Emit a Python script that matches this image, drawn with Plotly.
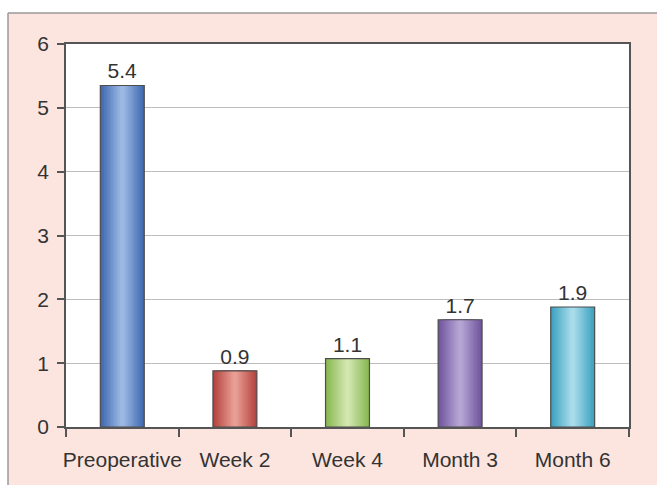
import plotly.graph_objects as go

categories = ["Preoperative", "Week 2", "Week 4", "Month 3", "Month 6"]
values = [5.35, 0.88, 1.07, 1.68, 1.88]
value_labels = ["5.4", "0.9", "1.1", "1.7", "1.9"]
edge_colors = [(64, 106, 178), (180, 68, 62), (136, 184, 82), (112, 86, 158), (60, 162, 192)]
light_colors = [(156, 184, 226), (232, 158, 148), (210, 230, 176), (182, 164, 212), (168, 220, 234)]
y_ticks = [0, 1, 2, 3, 4, 5, 6]

BAR_W = 0.39
N_LAYERS = 12
FONT = "Liberation Sans, Arial, sans-serif"
FS = 21

fig = go.Figure()

for i in range(N_LAYERS):
    t = i / (N_LAYERS - 1)
    w = BAR_W * (1 - 0.9 * t)
    cols = []
    for e, l in zip(edge_colors, light_colors):
        c = tuple(int(round(e[k] + (l[k] - e[k]) * t)) for k in range(3))
        cols.append("rgb(%d,%d,%d)" % c)
    fig.add_trace(go.Bar(
        x=categories, y=values, width=w,
        marker=dict(color=cols, line=dict(width=0)),
        hoverinfo="skip", showlegend=False,
    ))

# outline + labels
fig.add_trace(go.Bar(
    x=categories, y=values, width=BAR_W,
    marker=dict(color="rgba(0,0,0,0)", line=dict(color="#4d4d4d", width=1.2)),
    text=value_labels, textposition="outside",
    textfont=dict(size=FS, color="#333333", family=FONT),
    cliponaxis=False, showlegend=False,
))

fig.update_layout(
    width=657, height=485,
    barmode="overlay",
    paper_bgcolor="#fce5df",
    plot_bgcolor="#ffffff",
    margin=dict(l=66, r=28, t=44, b=58),
    font=dict(family=FONT, size=FS, color="#333333"),
)

fig.update_xaxes(
    type="category", tickangle=0, automargin=False,
    showline=True, linecolor="#555555", linewidth=1.5, mirror=True,
    ticks="outside", tickson="boundaries", ticklen=8, tickcolor="#555555", tickwidth=1.5,
    tickfont=dict(size=FS, color="#333333", family=FONT),
    ticklabelstandoff=13,
    showgrid=False,
)
fig.update_yaxes(
    range=[0, 6], tickvals=y_ticks, automargin=False,
    showline=True, linecolor="#555555", linewidth=1.5, mirror=True,
    ticks="outside", ticklen=7, tickcolor="#555555", tickwidth=1.5,
    tickfont=dict(size=FS, color="#333333", family=FONT),
    ticklabelstandoff=4,
    showgrid=True, gridcolor="#bdbdbd", gridwidth=1,
    zeroline=False,
)

# white outer strips and grey frame lines (figure decoration)
x_left = -58 / 563
y_top = 1 + 31 / 383
fig.add_shape(type="rect", xref="paper", yref="paper", x0=-0.2, x1=1.2, y0=y_top, y1=1.2,
              fillcolor="white", line=dict(width=0), layer="below")
fig.add_shape(type="rect", xref="paper", yref="paper", x0=-0.2, x1=x_left, y0=-0.5, y1=1.2,
              fillcolor="white", line=dict(width=0), layer="below")
fig.add_shape(type="line", xref="paper", yref="paper", x0=x_left, x1=1.2, y0=y_top, y1=y_top,
              line=dict(color="#9a9a9a", width=1.5))
fig.add_shape(type="line", xref="paper", yref="paper", x0=x_left, x1=x_left, y0=-0.5, y1=y_top,
              line=dict(color="#9a9a9a", width=1.5))

fig.write_html("out.html")
